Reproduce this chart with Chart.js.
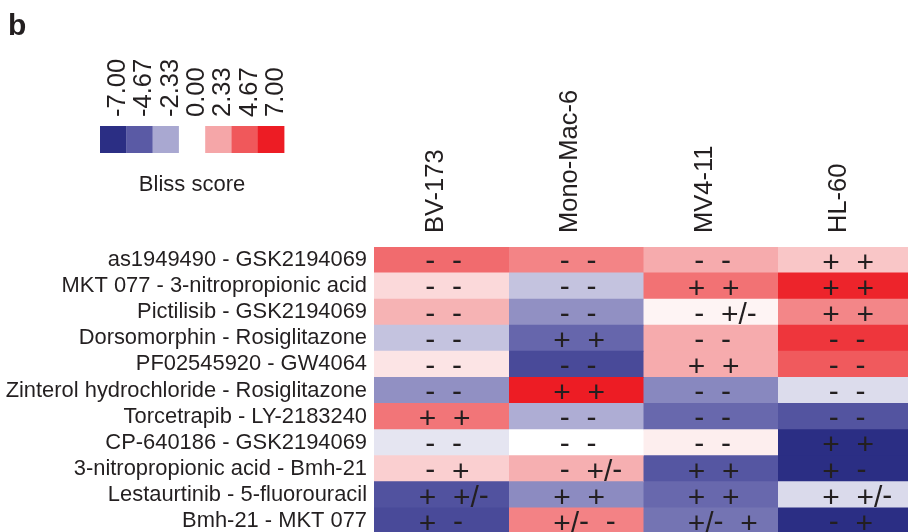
<!DOCTYPE html>
<html>
<head>
<meta charset="utf-8">
<script src="https://cdn.jsdelivr.net/npm/chart.js@4/dist/chart.umd.min.js"></script>
<style>
  html, body { margin: 0; padding: 0; background: #fff; overflow: hidden; }
  #wrap { position: relative; width: 912px; height: 534px; }
</style>
</head>
<body>
<div id="wrap"><canvas id="c"></canvas></div>
<script>
// ---- data ----
const rowLabels = [
  'as1949490 - GSK2194069',
  'MKT 077 - 3-nitropropionic acid',
  'Pictilisib - GSK2194069',
  'Dorsomorphin - Rosiglitazone',
  'PF02545920 - GW4064',
  'Zinterol hydrochloride - Rosiglitazone',
  'Torcetrapib - LY-2183240',
  'CP-640186 - GSK2194069',
  '3-nitropropionic acid - Bmh-21',
  'Lestaurtinib - 5-fluorouracil',
  'Bmh-21 - MKT 077'
];
const colLabels = ['BV-173', 'Mono-Mac-6', 'MV4-11', 'HL-60'];

// Bliss scores per cell line
const bv173    = [4.1, 1.0, 2.0, -1.6, 0.7, -3.05, 3.8, -0.7, 1.26, -5.1, -5.5];
const monoMac6 = [3.35, -1.6, -3.05, -4.3, -5.5, 7.0, -2.2, 0.0, 2.1, -3.2, 3.4];
const mv411    = [2.2, 3.9, 0.3, 2.2, 2.2, -3.3, -4.25, 0.45, -4.9, -4.25, -3.9];
const hl60     = [1.5, 6.7, 3.3, 6.0, 4.6, -0.95, -5.0, -7.0, -7.0, -1.0, -7.0];

// significance marks per cell line
const bv173Sig    = ['- -','- -','- -','- -','- -','- -','+ +','- -','- +','+ +/-','+ -'];
const monoMac6Sig = ['- -','- -','- -','+ +','- -','+ +','- -','- -','- +/-','+ +','+/- -'];
const mv411Sig    = ['- -','+ +','- +/-','- -','+ +','- -','- -','- -','+ +','+ +','+/- +'];
const hl60Sig     = ['+ +','+ +','+ +','- -','- -','- -','- -','+ +','+ -','+ +/-','- +'];

// colour scale
const legendTicks = [-7.00, -4.67, -2.33, 0.00, 2.33, 4.67, 7.00];
const legendColors = ['#2b2e84', '#5a5aa5', '#a9a8d1', '#ffffff', '#f5a6a8', '#f0585b', '#ed1c24'];

const values = [bv173, monoMac6, mv411, hl60];
const sigs = [bv173Sig, monoMac6Sig, mv411Sig, hl60Sig];

function hexToRgb(h) {
  return [parseInt(h.slice(1,3),16), parseInt(h.slice(3,5),16), parseInt(h.slice(5,7),16)];
}
function colorFor(v) {
  const t = legendTicks, c = legendColors.map(hexToRgb);
  if (v <= t[0]) return legendColors[0];
  if (v >= t[t.length-1]) return legendColors[legendColors.length-1];
  for (let i = 0; i < t.length - 1; i++) {
    if (v >= t[i] && v <= t[i+1]) {
      const f = (v - t[i]) / (t[i+1] - t[i]);
      const r = c[i].map((x, k) => Math.round(x + (c[i+1][k] - x) * f));
      return 'rgb(' + r.join(',') + ')';
    }
  }
  return '#fff';
}

const FONT = "'Liberation Sans', Arial, Helvetica, sans-serif";
const INK = '#231f20';

const overlay = {
  id: 'overlay',
  afterDatasetsDraw(chart) {
    const ctx = chart.ctx;
    ctx.save();
    ctx.fillStyle = INK;
    ctx.font = '30px ' + FONT;
    ctx.textAlign = 'left';
    ctx.textBaseline = 'alphabetic';
    chart.data.datasets.forEach((ds, di) => {
      const meta = chart.getDatasetMeta(di);
      meta.data.forEach((el, j) => {
        const cx = (el.x + el.base) / 2;
        const cy = el.y;
        const s = sigs[di][j].split(' ').join('  ');
        let x = cx - (s[0] === '-' ? 16 : 22.5);
        for (const ch of s) {
          const w = ctx.measureText(ch).width;
          if (ch !== ' ') {
            const by = cy + (ch === '-' ? 10.3 : 11.8);
            ctx.fillText(ch, x, by);
          }
          x += w;
        }
      });
    });
    ctx.restore();
  },
  afterDraw(chart) {
    const ctx = chart.ctx;
    ctx.save();
    // panel letter
    ctx.fillStyle = INK;
    ctx.font = 'bold 30px ' + FONT;
    ctx.textAlign = 'left';
    ctx.textBaseline = 'alphabetic';
    ctx.fillText('b', 8, 35);
    // colour key
    const bx = 100, bw = 26.3, by = 126, bh = 27;
    legendTicks.forEach((t, i) => {
      ctx.fillStyle = legendColors[i];
      ctx.fillRect(bx + i * bw, by, bw + 0.3, bh);
      ctx.save();
      ctx.translate(bx + i * bw + bw / 2 + 3 + 9, 117);
      ctx.rotate(-Math.PI / 2);
      ctx.fillStyle = INK;
      ctx.font = '25.5px ' + FONT;
      ctx.textAlign = 'left';
      ctx.textBaseline = 'alphabetic';
      ctx.fillText(t.toFixed(2), 0, 0);
      ctx.restore();
    });
    ctx.fillStyle = INK;
    ctx.font = '22px ' + FONT;
    ctx.textAlign = 'center';
    ctx.fillText('Bliss score', bx + 3.5 * bw, 191);
    ctx.restore();
  }
};

new Chart(document.getElementById('c'), {
  type: 'bar',
  data: {
    labels: rowLabels,
    datasets: colLabels.map((name, ci) => ({
      label: name,
      data: rowLabels.map(() => [ci, ci + 1]),
      backgroundColor: values[ci].map(colorFor),
      borderWidth: 0,
      barPercentage: 1,
      categoryPercentage: 1,
      grouped: false,
      inflateAmount: 0.5
    }))
  },
  options: {
    indexAxis: 'y',
    responsive: true,
    maintainAspectRatio: false,
    animation: false,
    events: [],
    layout: { padding: 0 },
    plugins: { legend: { display: false }, tooltip: { enabled: false } },
    scales: {
      x: {
        type: 'linear',
        position: 'top',
        min: 0,
        max: colLabels.length,
        grid: { display: false, drawTicks: false },
        border: { display: false },
        afterBuildTicks: (s) => { s.ticks = colLabels.map((_, i) => ({ value: i + 0.5 })); },
        afterFit: (s) => { s.height = 247; s.paddingLeft = 0; s.paddingRight = 0; },
        ticks: {
          autoSkip: false,
          minRotation: 90,
          maxRotation: 90,
          padding: 14,
          labelOffset: 25,
          color: INK,
          font: { family: FONT, size: 25.5 },
          callback: (v, i) => colLabels[i]
        }
      },
      y: {
        type: 'category',
        grid: { display: false, drawTicks: false },
        border: { display: false },
        afterFit: (s) => { s.width = 374; s.paddingTop = 0; s.paddingBottom = 0; },
        ticks: {
          autoSkip: false,
          padding: 7,
          color: INK,
          font: { family: FONT, size: 21.9 }
        }
      }
    }
  },
  plugins: [overlay]
});
</script>
</body>
</html>
